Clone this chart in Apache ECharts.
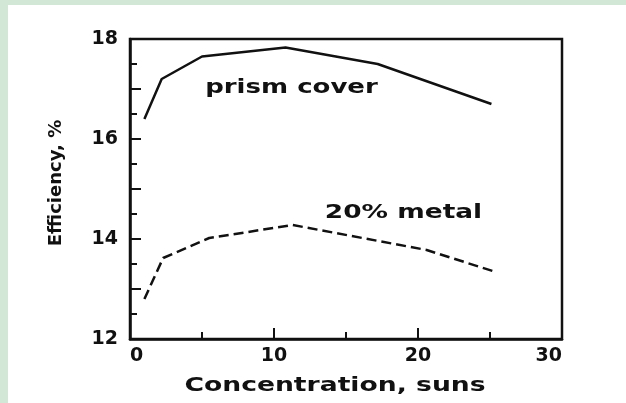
<!DOCTYPE html>
<html><head><meta charset="utf-8">
<script src="https://cdn.jsdelivr.net/npm/echarts@6/dist/echarts.min.js"></script>
<style>
html,body{margin:0;padding:0;background:#d3e7d6;width:626px;height:403px;overflow:hidden}
#paper{position:absolute;left:8px;top:5px;right:0;bottom:0;background:#fff}
#chart{position:absolute;left:0;top:0;width:626px;height:403px}
</style></head><body>
<div id="paper"></div><div id="chart"></div>
<script>
// Data
const prismConcentration = [1.0, 2.2, 5.0, 10.8, 17.2, 25.1];
const prismEfficiency    = [16.4, 17.2, 17.65, 17.83, 17.5, 16.7];
const metalConcentration = [1.0, 2.3, 5.5, 11.3, 20.6, 25.4];
const metalEfficiency    = [12.8, 13.62, 14.02, 14.28, 13.78, 13.34];
const yLabelValues = [12, 14, 16, 18];
const seriesNames = ['prism cover', '20% metal'];
const xAxisTitle = 'Concentration, suns';
const yAxisTitle = 'Efficiency, %';

const ink = '#111';
const FONT = 'DejaVu Sans';
const chart = echarts.init(document.getElementById('chart'), null, {renderer: 'canvas'});

const prismData = prismConcentration.map((x, i) => [x, prismEfficiency[i]]);
const metalData = metalConcentration.map((x, i) => [x, metalEfficiency[i]]);

const option = {
  backgroundColor: 'transparent',
  animation: false,
  grid: {left: 130, right: 64, top: 39, bottom: 64, show: true, borderColor: ink, borderWidth: 2.5, backgroundColor: 'transparent'},
  xAxis: {
    type: 'value', min: 0, max: 30, interval: 10,
    axisLine: {show: true, onZero: false, lineStyle: {color: ink, width: 2.5}},
    axisTick: {show: true, inside: true, length: 11, lineStyle: {color: ink, width: 2}},
    minorTick: {show: true, splitNumber: 2, length: 7, lineStyle: {color: ink, width: 2}},
    splitLine: {show: false},
    axisLabel: {color: ink, fontFamily: FONT, fontWeight: 'bold', fontSize: 19, margin: 8,
      alignMinLabel: 'left', alignMaxLabel: 'right'}
  },
  yAxis: {
    type: 'value', min: 12, max: 18, interval: 1,
    axisLine: {show: true, onZero: false, lineStyle: {color: ink, width: 2.5}},
    axisTick: {show: true, inside: true, length: 11, lineStyle: {color: ink, width: 2}},
    minorTick: {show: true, splitNumber: 2, length: 7, lineStyle: {color: ink, width: 2}},
    splitLine: {show: false},
    axisLabel: {color: ink, fontFamily: FONT, fontWeight: 'bold', fontSize: 19, margin: 12,
      formatter: v => yLabelValues.indexOf(v) >= 0 ? String(v) : ''}
  },
  graphic: [
    {type: 'text', x: 335, y: 386, scaleX: 1.33, silent: true,
      style: {text: xAxisTitle, font: 'bold 20px "DejaVu Sans"', fill: ink, textAlign: 'center', textVerticalAlign: 'middle'}},
    {type: 'text', x: 56, y: 183, rotation: Math.PI / 2, silent: true,
      style: {text: yAxisTitle, font: 'bold 18px "DejaVu Sans"', fill: ink, textAlign: 'center', textVerticalAlign: 'middle'}},
    {type: 'text', x: 291.5, y: 87.5, scaleX: 1.3, silent: true,
      style: {text: seriesNames[0], font: 'bold 20px "DejaVu Sans"', fill: ink, textAlign: 'center', textVerticalAlign: 'middle'}},
    {type: 'text', x: 403.5, y: 213, scaleX: 1.32, silent: true,
      style: {text: seriesNames[1], font: 'bold 20px "DejaVu Sans"', fill: ink, textAlign: 'center', textVerticalAlign: 'middle'}}
  ],
  series: [
    {name: seriesNames[0], type: 'line', data: prismData, showSymbol: false, symbol: 'none',
      lineStyle: {color: ink, width: 2.5, type: 'solid'}},
    {name: seriesNames[1], type: 'line', data: metalData, showSymbol: false, symbol: 'none',
      lineStyle: {color: ink, width: 2.5, type: [10, 5]}}
  ]
};
chart.setOption(option);
</script>
</body></html>
